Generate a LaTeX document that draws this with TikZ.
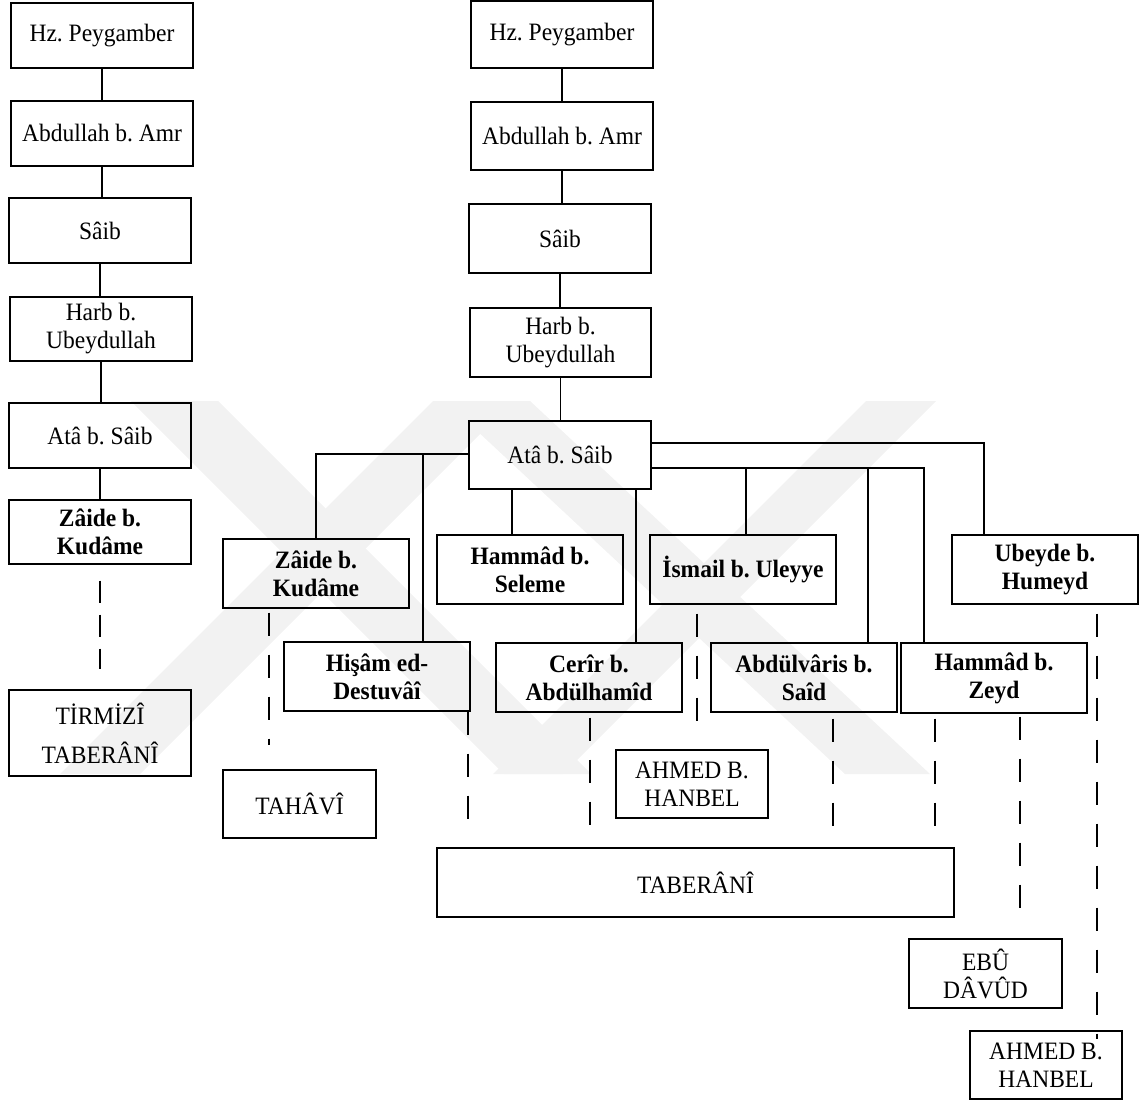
\documentclass[tikz,border=0pt]{standalone}
\usepackage{fontspec}
\setmainfont{Liberation Serif}[FakeStretch=0.94]
\newcommand\mybox[7]{\node[#6,minimum width={(#3-#2)*1pt},minimum height={(#5-#4)*1pt}] (#1) at ({(#2+#3)/2},{(#4+#5)/2}) {#7};}
\begin{document}
\frenchspacing
\begin{tikzpicture}[x=1pt,y=-1pt,
  box/.style={draw=black,line width=1.2pt,inner sep=0pt,align=center,font=\fontsize{25}{28}\selectfont\frenchspacing},
  bbox/.style={box,font=\fontsize{25}{28}\selectfont\bfseries\frenchspacing},
  link/.style={line width=1.2pt},
  dlink/.style={line width=1.2pt,dash pattern=on 23pt off 19pt},
  dlinkl/.style={line width=1.2pt,dash pattern=on 22pt off 12pt},
  wm/.style={fill=black!5,draw=none}]
\useasboundingbox (0,0) rectangle (1140,1102);
% watermark
\fill[wm] (131,401) -- (218,401) -- (591,774) -- (504,774) -- cycle;
\fill[wm] (60,774) -- (140,774) -- (513,401) -- (433,401) -- cycle;
\fill[wm] (445,401) -- (530,401) -- (930,774) -- (845,774) -- cycle;
\fill[wm] (493,774) -- (563,774) -- (936,401) -- (866,401) -- cycle;
% left column
\mybox{L1}{11}{193}{3}{68}{box}{Hz. Peygamber}
\mybox{L2}{11}{193}{101}{166}{box}{Abdullah b. Amr}
\mybox{L3}{9}{191}{198}{263}{box}{Sâib}
\mybox{L4}{10}{192}{297}{361}{box}{Harb b.\\Ubeydullah}
\mybox{L5}{9}{191}{403}{468}{box}{Atâ b. Sâib}
\mybox{L6}{9}{191}{500}{564}{bbox}{Zâide b.\\Kudâme}
\mybox{L7}{9}{191}{690}{776}{box,font=\fontsize{25}{39}\selectfont}{TİRMİZÎ\\TABERÂNÎ}
% middle column
\mybox{M1}{471}{653}{1}{68}{box}{Hz. Peygamber}
\mybox{M2}{471}{653}{102}{170}{box}{Abdullah b. Amr}
\mybox{M3}{469}{651}{204}{273}{box}{Sâib}
\mybox{M4}{470}{651}{308}{377}{box}{Harb b.\\Ubeydullah}
\mybox{M5}{469}{651}{421}{489}{box}{Atâ b. Sâib}
% children
\mybox{Z}{223}{409}{539}{608}{bbox}{Zâide b.\\Kudâme}
\mybox{HS}{437}{623}{535}{604}{bbox}{Hammâd b.\\Seleme}
\mybox{IU}{650}{836}{535}{604}{bbox}{İsmail b. Uleyye}
\mybox{UH}{952}{1138}{535}{604}{bbox}{Ubeyde b.\\Humeyd}
\mybox{HD}{284}{470}{642}{711}{bbox}{Hişâm ed-\\Destuvâî}
\mybox{CA}{496}{682}{643}{712}{bbox}{Cerîr b.\\Abdülhamîd}
\mybox{AS}{711}{897}{643}{712}{bbox}{Abdülvâris b.\\Saîd}
\mybox{HZ}{901}{1087}{643}{713}{bbox}{Hammâd b.\\Zeyd}
% collectors
\mybox{TH}{223}{376}{770}{838}{box}{TAHÂVÎ}
\mybox{AH1}{616}{768}{750}{818}{box}{AHMED B.\\HANBEL}
\mybox{TB}{437}{954}{848}{917}{box}{TABERÂNÎ}
\mybox{ED}{909}{1062}{939}{1008}{box}{EBÛ\\DÂVÛD}
\mybox{AH2}{970}{1122}{1031}{1099}{box}{AHMED B.\\HANBEL}
% left column links
\draw[link] (L1.south) -- (L1.south |- L2.north);
\draw[link] (L2.south) -- (L2.south |- L3.north);
\draw[link] (L3.south) -- (L3.south |- L4.north);
\draw[link] (L4.south) -- (L4.south |- L5.north);
\draw[link] (L5.south) -- (L5.south |- L6.north);
\draw[dlinkl,shorten <=16pt,shorten >=20pt] (L6.south) -- (L6.south |- L7.north);
% middle column links
\draw[link] (M1.south) -- (M1.south |- M2.north);
\draw[link] (M2.south) -- (M2.south |- M3.north);
\draw[link] (M3.south) -- (M3.south |- M4.north);
\draw[link] (M4.south) -- (M4.south |- M5.north);
% branches from Ata
\coordinate (jl) at (M5.west |- 0,454);
\coordinate (jru) at (M5.east |- 0,443);
\coordinate (jrl) at (M5.east |- 0,468);
\draw[link] (jl) -| (Z.north);
\draw[link] (jl -| 423,0) -- (HD.north -| 423,0);
\draw[link] (M5.south -| 512,0) -- (HS.north -| 512,0);
\draw[link] (M5.south -| 636,0) -- (CA.north -| 636,0);
\draw[link] (jru) -| (UH.north -| 984,0);
\draw[link] (jrl) -| (HZ.north -| 924,0);
\draw[link] (jrl -| 746,0) -- (IU.north -| 746,0);
\draw[link] (jrl -| 868,0) -- (AS.north -| 868,0);
% dashed transmissions
\draw[dlink,shorten <=4pt,shorten >=24pt] (Z.south -| 269,0) -- (TH.north -| 269,0);
\draw[dlink,shorten >=17pt] (HD.south -| 468,0) -- (TB.north -| 468,0);
\draw[dlink,shorten <=5pt,shorten >=11pt] (CA.south -| 590,0) -- (TB.north -| 590,0);
\draw[dlink,shorten <=9pt,shorten >=17pt] (IU.south -| 697,0) -- (AH1.north -| 697,0);
\draw[dlink,shorten <=6pt,shorten >=10pt] (AS.south -| 833,0) -- (TB.north -| 833,0);
\draw[dlink,shorten <=5pt,shorten >=13pt] (HZ.south -| 935,0) -- (TB.north -| 935,0);
\draw[dlink,shorten <=3pt,shorten >=29pt] (HZ.south -| 1020,0) -- (ED.north -| 1020,0);
\draw[dlink,shorten <=9pt,shorten >=-9pt] (UH.south -| 1097,0) -- (AH2.north -| 1097,0);
\end{tikzpicture}
\end{document}
